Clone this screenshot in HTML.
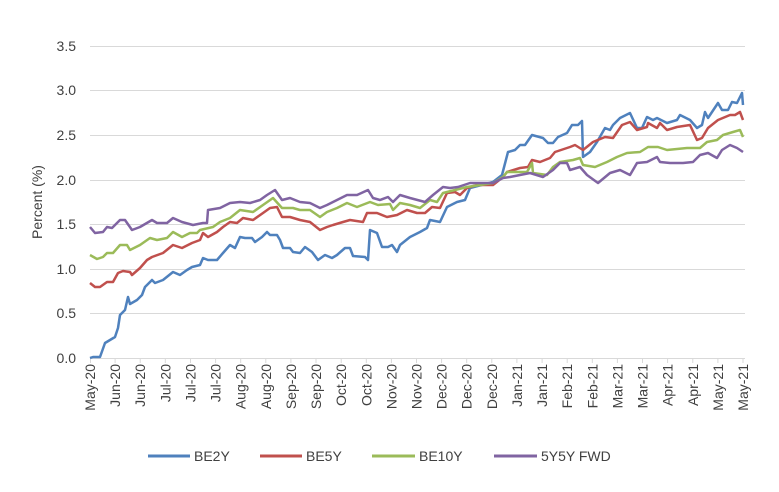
<!DOCTYPE html>
<html><head><meta charset="utf-8"><style>
html,body{margin:0;padding:0;background:#fff;}
svg{display:block;font-family:"Liberation Sans",Arial,sans-serif;}
</style></head><body>
<svg width="779" height="492" viewBox="0 0 779 492">
<g stroke="#d9d9d9" stroke-width="1">
<line x1="90" y1="46.5" x2="745" y2="46.5"/>
<line x1="90" y1="90.5" x2="745" y2="90.5"/>
<line x1="90" y1="135.5" x2="745" y2="135.5"/>
<line x1="90" y1="180.5" x2="745" y2="180.5"/>
<line x1="90" y1="224.5" x2="745" y2="224.5"/>
<line x1="90" y1="269.5" x2="745" y2="269.5"/>
<line x1="90" y1="313.5" x2="745" y2="313.5"/>
<line x1="90" y1="358.5" x2="745" y2="358.5"/>
<path d="M90.5 358v5M115.1 358v5M140.2 358v5M165.3 358v5M190.5 358v5M215.6 358v5M240.7 358v5M265.8 358v5M290.9 358v5M316 358v5M341.2 358v5M366.3 358v5M391.4 358v5M416.5 358v5M441.6 358v5M466.7 358v5M491.8 358v5M516.9 358v5M542.1 358v5M567.2 358v5M592.3 358v5M617.4 358v5M642.5 358v5M667.6 358v5M692.8 358v5M717.9 358v5M743 358v5"/>
</g>
<g font-size="14" fill="#404040" text-anchor="end">
<text x="76" y="51">3.5</text>
<text x="76" y="95">3.0</text>
<text x="76" y="140">2.5</text>
<text x="76" y="185">2.0</text>
<text x="76" y="229">1.5</text>
<text x="76" y="274">1.0</text>
<text x="76" y="318">0.5</text>
<text x="76" y="363">0.0</text>
</g>
<text transform="translate(42,202) rotate(-90)" font-size="14" fill="#404040" text-anchor="middle">Percent (%)</text>
<g font-size="14" fill="#404040" text-anchor="end">
<text transform="translate(95,364) rotate(-90)">May-20</text>
<text transform="translate(120.1,364) rotate(-90)">Jun-20</text>
<text transform="translate(145.2,364) rotate(-90)">Jun-20</text>
<text transform="translate(170.3,364) rotate(-90)">Jul-20</text>
<text transform="translate(195.5,364) rotate(-90)">Jul-20</text>
<text transform="translate(220.6,364) rotate(-90)">Jul-20</text>
<text transform="translate(245.7,364) rotate(-90)">Aug-20</text>
<text transform="translate(270.8,364) rotate(-90)">Aug-20</text>
<text transform="translate(295.9,364) rotate(-90)">Sep-20</text>
<text transform="translate(321,364) rotate(-90)">Sep-20</text>
<text transform="translate(346.2,364) rotate(-90)">Oct-20</text>
<text transform="translate(371.3,364) rotate(-90)">Oct-20</text>
<text transform="translate(396.4,364) rotate(-90)">Nov-20</text>
<text transform="translate(421.5,364) rotate(-90)">Nov-20</text>
<text transform="translate(446.6,364) rotate(-90)">Dec-20</text>
<text transform="translate(471.7,364) rotate(-90)">Dec-20</text>
<text transform="translate(496.8,364) rotate(-90)">Dec-20</text>
<text transform="translate(521.9,364) rotate(-90)">Jan-21</text>
<text transform="translate(547.1,364) rotate(-90)">Jan-21</text>
<text transform="translate(572.2,364) rotate(-90)">Feb-21</text>
<text transform="translate(597.3,364) rotate(-90)">Feb-21</text>
<text transform="translate(622.4,364) rotate(-90)">Mar-21</text>
<text transform="translate(647.5,364) rotate(-90)">Mar-21</text>
<text transform="translate(672.6,364) rotate(-90)">Apr-21</text>
<text transform="translate(697.8,364) rotate(-90)">Apr-21</text>
<text transform="translate(722.9,364) rotate(-90)">May-21</text>
<text transform="translate(748,364) rotate(-90)">May-21</text>
</g>
<g fill="none" stroke-width="2.5" stroke-linejoin="round">
<polyline stroke="#4f81bd" points="90,358 93,357 100,357 105,343 110,340 115,337 118,328 120,315 125,310 128,297 130,304 137,300 142,295 145,287 152,280 155,283 163,280 173,272 180,275 187,270 192,267 200,265 203,258 208,260 217,260 223,253 230,245 235,248 240,237 245,238 252,238 255,242 262,237 267,232 270,235 277,235 280,240 283,248 290,248 293,252 300,253 305,247 312,252 318,260 325,255 332,258 337,255 345,248 350,248 353,256 365,257 368,260 370,230 377,233 382,247 388,247 392,245 397,252 400,245 410,237 420,232 427,228 430,220 440,222 447,207 457,202 465,200 470,188 493,182 502,175 508,152 515,150 520,145 525,145 532,135 543,138 548,143 553,143 558,137 567,133 572,125 578,125 582,121 583,157 590,152 597,142 605,128 610,130 613,125 620,118 630,113 637,128 642,128 647,117 653,120 657,118 667,123 677,120 680,115 690,120 697,128 702,125 705,112 708,118 718,103 722,110 728,110 732,102 737,103 742,93 743,105"/>
<polyline stroke="#c0504d" points="90,283 95,287 100,287 107,282 113,282 118,273 123,271 130,272 132,275 140,268 147,260 152,257 163,253 173,245 182,248 192,243 200,240 203,233 208,237 217,232 223,227 230,222 237,223 243,218 253,220 263,213 270,208 277,207 282,217 290,217 300,220 310,222 320,230 327,227 333,225 343,222 350,220 363,222 367,213 377,213 387,217 397,215 407,210 417,213 425,213 432,207 440,208 447,193 455,192 460,195 467,188 477,185 493,185 503,177 507,172 520,168 528,167 532,160 540,162 550,158 555,152 570,147 575,145 583,150 593,142 605,137 613,138 622,125 630,122 637,130 647,127 648,123 657,128 660,123 667,130 677,127 690,125 697,140 702,138 708,128 718,120 730,115 735,115 740,112 743,120"/>
<polyline stroke="#9bbb59" points="90,255 97,259 103,257 107,253 113,253 120,245 127,245 130,250 140,245 150,238 157,240 167,238 173,232 182,237 190,233 197,233 200,230 213,227 220,222 230,218 240,210 253,212 263,205 273,198 282,208 293,208 300,210 310,210 320,217 327,212 337,208 347,203 357,207 370,202 378,205 390,204 393,210 400,203 410,205 420,208 430,200 437,202 443,193 467,187 493,183 503,177 507,172 527,172 532,163 533,173 547,175 553,167 560,162 573,160 580,158 583,165 595,167 607,162 617,157 627,153 640,152 648,147 658,147 667,150 687,148 700,148 707,142 717,140 723,135 733,132 740,130 743,137"/>
<polyline stroke="#8064a2" points="90,227 95,233 103,232 107,227 112,228 120,220 125,220 132,230 140,227 152,220 157,223 167,223 173,218 182,222 193,225 203,223 207,223 208,210 220,208 230,203 240,202 250,203 260,200 267,195 275,190 282,200 290,198 300,202 310,203 320,208 327,205 337,200 347,195 357,195 368,190 373,198 380,200 388,197 393,202 400,195 410,198 425,202 433,195 443,187 450,188 458,187 470,183 493,183 503,178 510,177 530,173 543,177 553,170 560,163 567,163 570,170 580,167 587,175 598,183 610,173 620,170 630,175 637,163 647,162 657,157 660,162 670,163 683,163 693,162 700,155 708,153 717,158 722,150 730,145 737,148 743,152"/>
</g>
<g stroke-width="3">
<line x1="148" y1="456" x2="190" y2="456" stroke="#4f81bd"/>
<line x1="260" y1="456" x2="302" y2="456" stroke="#c0504d"/>
<line x1="372" y1="456" x2="415" y2="456" stroke="#9bbb59"/>
<line x1="494" y1="456" x2="537" y2="456" stroke="#8064a2"/>
</g>
<g font-size="14" fill="#404040">
<text x="194" y="461">BE2Y</text>
<text x="306" y="461">BE5Y</text>
<text x="419" y="461">BE10Y</text>
<text x="541" y="461">5Y5Y FWD</text>
</g>
</svg>
</body></html>
